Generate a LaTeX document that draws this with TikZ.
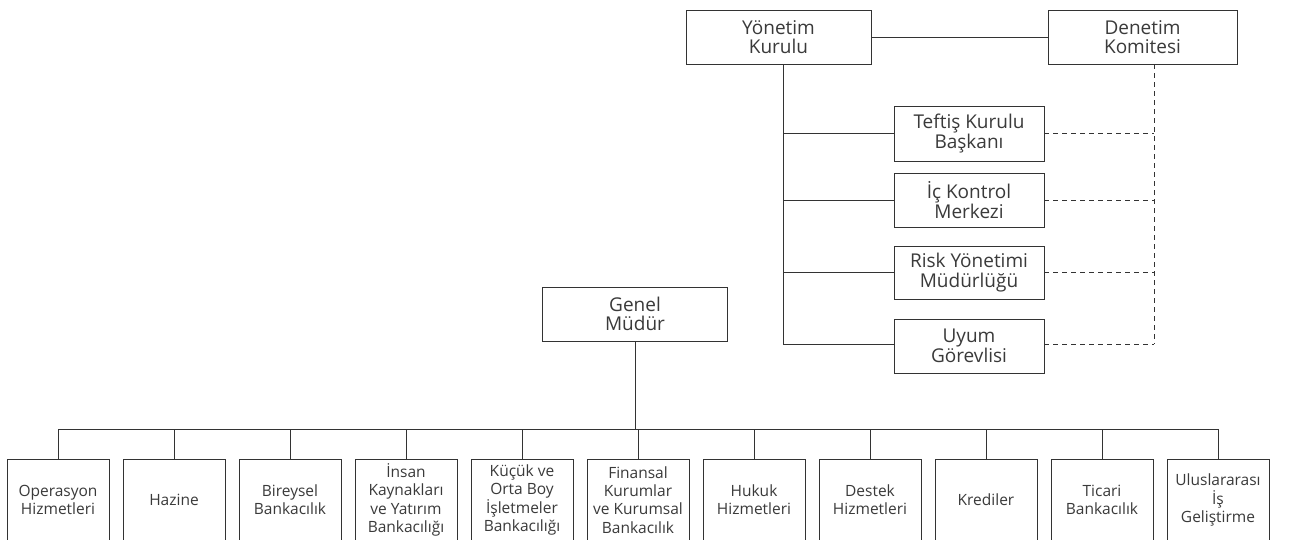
\documentclass[tikz,border=0pt]{standalone}
\usepackage{fontspec}
\setmainfont{Open Sans}
\definecolor{linec}{HTML}{333333}
\definecolor{txt}{HTML}{3A3A3A}
\begin{document}
\begin{tikzpicture}[x=1pt,y=-1pt,
  box/.style={draw=linec, line width=0.9pt, fill=white, text=txt, align=center,
    inner sep=0pt, font=\fontsize{19}{19.5}\selectfont},
  sbox/.style={box, font=\fontsize{15.5}{18.3}\selectfont},
  conn/.style={draw=linec, line width=0.9pt},
  dconn/.style={draw=linec, line width=0.8pt, dash pattern=on 5pt off 4pt}]
\useasboundingbox (0,0) rectangle (1290,539);
\clip (0,0) rectangle (1290,539);
% top
\node[box, minimum width=185pt, minimum height=54pt] (yk) at (778.5,37) {Yönetim\\Kurulu};
\node[box, minimum width=189pt, minimum height=54pt] (dk) at (1142.5,37) {Denetim\\Komitesi};
\draw[conn] (yk.east) -- (dk.west);
% side boxes
\node[box, minimum width=150pt, minimum height=55pt] (tb) at (969,133.5) {Teftiş Kurulu\\Başkanı};
\node[box, minimum width=150pt, minimum height=54pt] (ik) at (969,200) {İç Kontrol\\Merkezi};
\node[box, minimum width=150pt, minimum height=53pt] (ry) at (969,272.5) {Risk Yönetimi\\Müdürlüğü};
\node[box, minimum width=150pt, minimum height=54pt] (ug) at (969,346) {Uyum\\Görevlisi};
\coordinate (trunk) at (783,344);
\coordinate (dtrunk) at (1154,344);
\draw[conn] (yk.south -| trunk) -- (trunk);
\foreach \n in {tb,ik,ry} {
  \draw[conn] (\n.west) -- (\n.west -| trunk);
  \draw[dconn] (\n.east) -- (\n.east -| dtrunk);
}
\draw[conn] (ug.west |- trunk) -- (trunk);
\draw[dconn] (ug.east |- dtrunk) -- (dtrunk);
\draw[dconn] (dk.south -| dtrunk) -- (dtrunk);
% general manager
\node[box, minimum width=185pt, minimum height=54pt] (gm) at (635,314) {Genel\\Müdür};
\coordinate (bus) at (0,429);
% bottom boxes
\foreach \t [count=\i] in {
  {Operasyon\\Hizmetleri},
  {Hazine},
  {Bireysel\\Bankacılık},
  {İnsan\\Kaynakları\\ve Yatırım\\Bankacılığı},
  {Küçük ve\\Orta Boy\\İşletmeler\\Bankacılığı},
  {Finansal\\Kurumlar\\ve Kurumsal\\Bankacılık},
  {Hukuk\\Hizmetleri},
  {Destek\\Hizmetleri},
  {Krediler},
  {Ticari\\Bankacılık},
  {Uluslararası\\İş\\Geliştirme}} {
  \node[sbox, minimum width=102pt, minimum height=82pt] (b\i) at ({58+116*(\i-1)},500) {\t};
}
\draw[conn] (gm.south) -- (gm.south |- bus);
\draw[conn] (b1.north |- bus) -- (b11.north |- bus);
\foreach \i in {1,...,11} {
  \draw[conn] (b\i.north) -- (b\i.north |- bus);
}
\end{tikzpicture}
\end{document}
